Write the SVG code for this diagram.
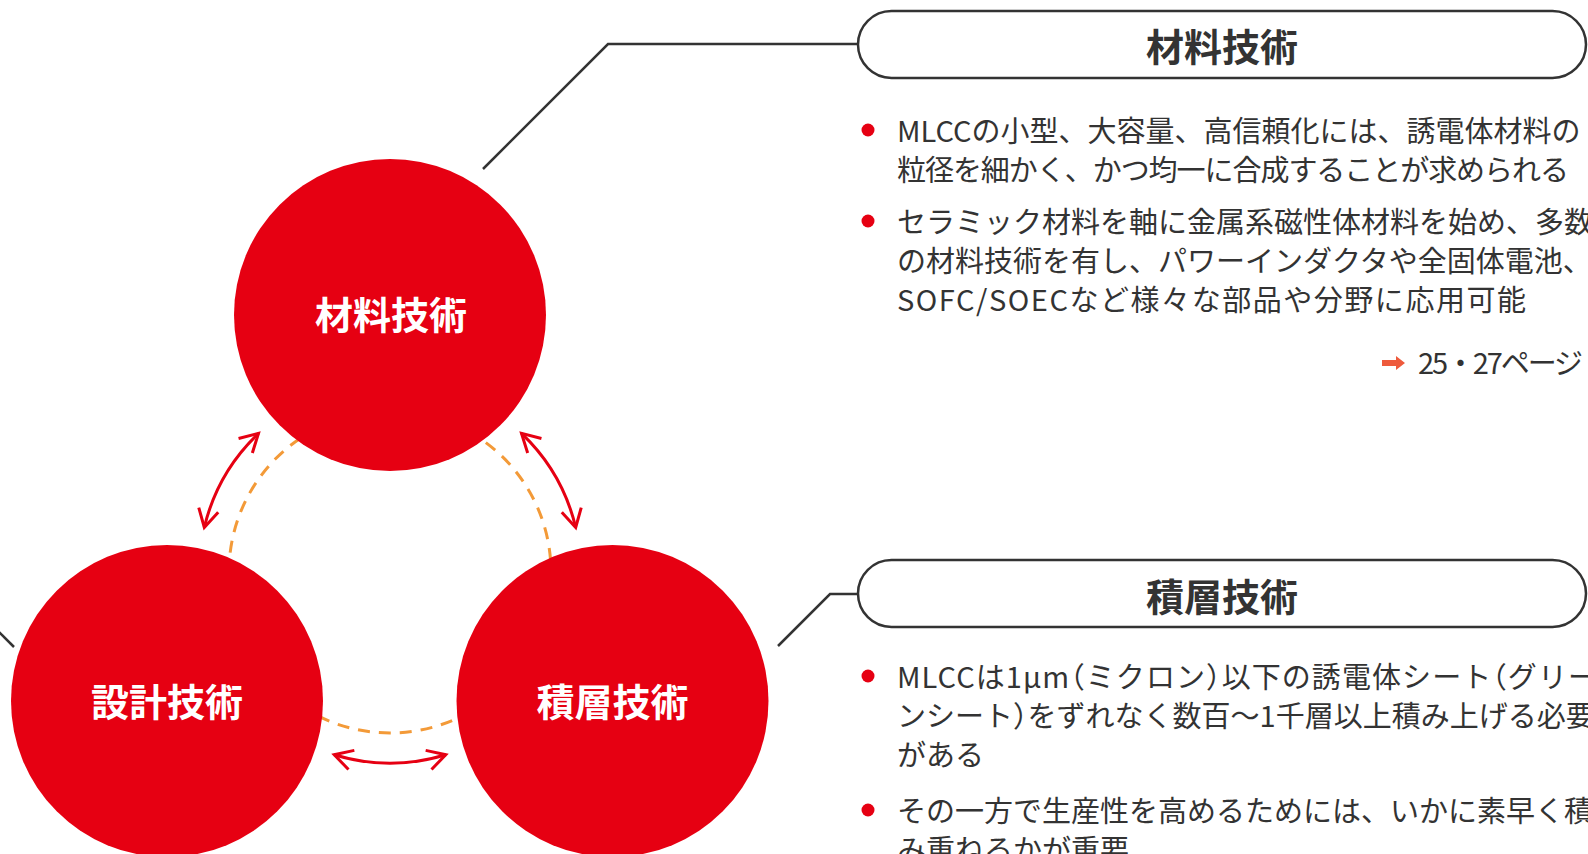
<svg xmlns="http://www.w3.org/2000/svg" width="1588" height="854" viewBox="0 0 1588 854">
<style>
.circ{fill:#E60012}
.ctxt{fill:#fff;font-family:"Noto Sans CJK JP","Noto Sans CJK SC",sans-serif;font-size:38px;font-weight:700;text-anchor:middle}
.pill{fill:#fff;stroke:#333;stroke-width:2.5}
.ptxt{fill:#333;font-family:"Noto Sans CJK JP",sans-serif;font-size:38px;font-weight:700;text-anchor:middle}
.body{fill:#333;font-family:"Noto Sans CJK JP",sans-serif;font-size:29px;font-weight:400}
.h{font-feature-settings:"halt"}
.dot{fill:#E60012}
.conn{fill:none;stroke:#333;stroke-width:2.5}
.dash{fill:none;stroke:#F39A38;stroke-width:3;stroke-dasharray:12 9}
.arr{fill:none;stroke:#E60012;stroke-width:3;marker-start:url(#ah);marker-end:url(#ah)}
</style>
<defs>
<marker id="ah" markerUnits="userSpaceOnUse" markerWidth="24" markerHeight="24" orient="auto-start-reverse" refX="0" refY="0" overflow="visible">
<path d="M-18,-10 L0,0 L-18,10" fill="none" stroke="#E60012" stroke-width="3"/>
</marker>
</defs>
<rect width="1588" height="854" fill="#fff"/>
<g id="connectors">
<circle class="dash" cx="390" cy="572" r="161"/>
<path class="arr" d="M334.2,754.7 A191,191 0 0 0 445.8,754.7"/>
<path class="arr" d="M204.3,527.4 A191,191 0 0 1 258.5,433.4"/>
<path class="arr" d="M521.5,433.4 A191,191 0 0 1 575.7,527.4"/>
<path class="conn" d="M483,169 L608,44 L858,44"/>
<path class="conn" d="M778,646 L830,594 L858,594"/>
<path class="conn" d="M-20,613 L14,647"/>
</g>
<g id="node-material">
<circle class="circ" cx="390" cy="315" r="156"/>
<text class="ctxt" x="391" y="329">材料技術</text>
</g>
<g id="node-design">
<circle class="circ" cx="167" cy="701" r="156"/>
<text class="ctxt" x="167" y="716">設計技術</text>
</g>
<g id="node-lamination">
<circle class="circ" cx="612.5" cy="701" r="156"/>
<text class="ctxt" x="612.5" y="716">積層技術</text>
</g>
<g id="panel-material">
<rect class="pill" x="858" y="11" width="728" height="67" rx="33.5"/>
<text class="ptxt" x="1222" y="61">材料技術</text>
<circle class="dot" cx="868" cy="130" r="6.5"/>
<text class="body" x="897" y="142">MLCCの小型、大容量、高信頼化には、誘電体材料の</text>
<text class="body" x="897" y="181" textLength="672" lengthAdjust="spacing">粒径を細かく、かつ均一に合成することが求められる</text>
<circle class="dot" cx="868" cy="221" r="6.5"/>
<text class="body" x="897" y="233">セラミック材料を軸に金属系磁性体材料を始め、多数</text>
<text class="body" x="897" y="272">の材料技術を有し、パワーインダクタや全固体電池、</text>
<text class="body" x="897" y="311" textLength="629" lengthAdjust="spacing">SOFC/SOECなど様々な部品や分野に応用可能</text>
<polygon points="1382,360 1396,360 1396,356 1405,363 1396,370 1396,366 1382,366" fill="#EE5A3C"/>
<text class="body" x="1418" y="374" textLength="165" lengthAdjust="spacing">25・27ページ</text>
</g>
<g id="panel-lamination">
<rect class="pill" x="858" y="560" width="728" height="67" rx="33.5"/>
<text class="ptxt" x="1222" y="611">積層技術</text>
<circle class="dot" cx="868" cy="676" r="6.5"/>
<text class="body" x="897" y="688" textLength="700" lengthAdjust="spacing">MLCCは1μm<tspan class="h">（</tspan>ミクロン<tspan class="h">）</tspan>以下の誘電体シート<tspan class="h">（</tspan>グリー</text>
<text class="body" x="897" y="727">ンシート<tspan class="h">）</tspan>をずれなく数百～1千層以上積み上げる必要</text>
<text class="body" x="897" y="766">がある</text>
<circle class="dot" cx="868" cy="810" r="6.5"/>
<text class="body" x="897" y="822">その一方で生産性を高めるためには、いかに素早く積</text>
<text class="body" x="897" y="861">み重ねるかが重要</text>
</g>
</svg>
